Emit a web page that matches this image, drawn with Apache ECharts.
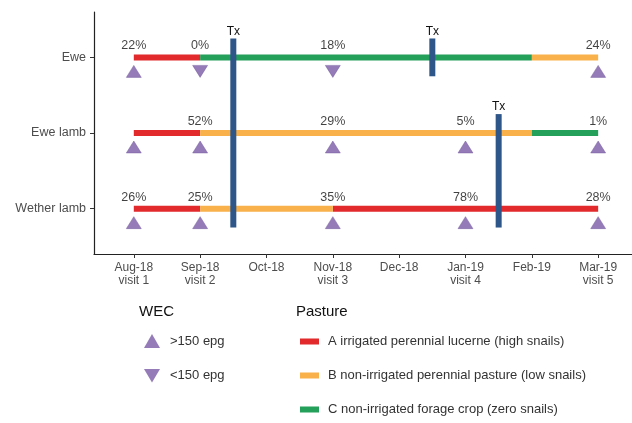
<!DOCTYPE html>
<html>
<head>
<meta charset="utf-8">
<script src="https://cdn.jsdelivr.net/npm/echarts@6/dist/echarts.min.js"></script>
<style>
  html, body { margin: 0; background: #fff; }
  #root { width: 632px; height: 423px; }
</style>
</head>
<body>
<div id="root"></div>
<script>
// x = month index from Aug-18
const months = ['Aug-18\nvisit 1', 'Sep-18\nvisit 2', 'Oct-18', 'Nov-18\nvisit 3', 'Dec-18', 'Jan-19\nvisit 4', 'Feb-19', 'Mar-19\nvisit 5']
const groups = ['Ewe', 'Ewe lamb', 'Wether lamb']
const pastures = [
  'A irrigated perennial lucerne (high snails)',
  'B non-irrigated perennial pasture (low snails)',
  'C non-irrigated forage crop (zero snails)'
]
const pastureColors = ['#E2292B', '#F8B14B', '#25A05A']

// [group, from month, to month, pasture]
const segments = [
  [0, 0, 1, 0], [0, 1, 6, 2], [0, 6, 7, 1],
  [1, 0, 1, 0], [1, 1, 6, 1], [1, 6, 7, 2],
  [2, 0, 1, 0], [2, 1, 3, 1], [2, 3, 7, 0]
]

// [month, group, percent]
const percents = [
  [0, 0, 22], [1, 0, 0], [3, 0, 18], [7, 0, 24],
  [1, 1, 52], [3, 1, 29], [5, 1, 5], [7, 1, 1],
  [0, 2, 26], [1, 2, 25], [3, 2, 35], [5, 2, 78], [7, 2, 28]
]

// WEC result per visit: [month, group]
const wecHigh = [
  [0, 0], [7, 0],
  [0, 1], [1, 1], [3, 1], [5, 1], [7, 1],
  [0, 2], [1, 2], [3, 2], [5, 2], [7, 2]
]
const wecLow = [[1, 0], [3, 0]]

// treatments: [month, first group, last group]
const treatments = [[1.5, 0, 2], [4.5, 0, 0], [5.5, 1, 2]]

const font = 'Liberation Sans'
const downTriangle = 'path://M0,0 L2,0 L1,1.7 Z'

const chart = echarts.init(document.getElementById('root'))

const segmentSeries = pastures.map((name, p) => ({
  name,
  type: 'custom',
  itemStyle: { color: pastureColors[p] },
  encode: { x: [1, 2], y: 0 },
  data: segments.filter(s => s[3] === p),
  renderItem: (params, api) => {
    const a = api.coord([api.value(1), api.value(0)])
    const b = api.coord([api.value(2), api.value(0)])
    return {
      type: 'line',
      shape: { x1: a[0], y1: a[1], x2: b[0], y2: b[1] },
      style: { stroke: pastureColors[p], lineWidth: 6 }
    }
  },
  z: 2
}))

const option = {
  animation: false,
  title: [
    { text: 'WEC', left: 139, top: 304, padding: 0, textStyle: { fontFamily: font, fontSize: 15, fontWeight: 'normal', color: '#111' } },
    { text: 'Pasture', left: 296, top: 304, padding: 0, textStyle: { fontFamily: font, fontSize: 15, fontWeight: 'normal', color: '#111' } }
  ],
  legend: [
    {
      data: ['>150 epg', '<150 epg'],
      orient: 'vertical',
      left: 144,
      top: 334,
      itemWidth: 16,
      itemHeight: 14,
      itemGap: 21,
      selectedMode: false,
      padding: 0,
      itemStyle: { borderWidth: 0 },
      textStyle: { fontFamily: font, fontSize: 13, color: '#333', padding: [0, 0, 0, 5] }
    },
    {
      data: pastures.map(name => ({ name, icon: 'rect' })),
      orient: 'vertical',
      left: 300,
      top: 335,
      itemWidth: 19,
      itemHeight: 6,
      itemGap: 21,
      selectedMode: false,
      padding: 0,
      textStyle: { fontFamily: font, fontSize: 13, color: '#333', padding: [0, 0, 0, 4] }
    }
  ],
  grid: { left: 94, right: 0, top: 12, bottom: 169, containLabel: false },
  xAxis: {
    type: 'value',
    min: -0.6,
    max: 7.51,
    splitLine: { show: false },
    axisLine: { show: true, onZero: false, lineStyle: { color: '#222', width: 1.2 } },
    axisTick: { show: true, length: 4, customValues: months.map((m, i) => i), lineStyle: { color: '#333' } },
    axisLabel: {
      customValues: months.map((m, i) => i),
      formatter: v => months[Math.round(v)],
      fontFamily: font,
      fontSize: 12,
      color: '#4D4D4D',
      lineHeight: 13,
      margin: 7
    }
  },
  yAxis: {
    type: 'value',
    inverse: true,
    min: -0.6,
    max: 2.6,
    splitLine: { show: false },
    axisLine: { show: true, onZero: false, lineStyle: { color: '#222', width: 1.2 } },
    axisTick: { show: true, length: 4, customValues: [0, 1, 2], lineStyle: { color: '#333' } },
    axisLabel: {
      customValues: [0, 1, 2],
      formatter: v => groups[Math.round(v)],
      fontFamily: font,
      fontSize: 12.5,
      color: '#4D4D4D',
      margin: 8
    }
  },
  series: [
    ...segmentSeries,
    {
      name: 'Tx',
      type: 'custom',
      encode: { x: 0, y: [1, 2] },
      data: treatments,
      renderItem: (params, api) => {
        const top = api.coord([api.value(0), api.value(1) - 0.25])
        const bottom = api.coord([api.value(0), api.value(2) + 0.25])
        return {
          type: 'group',
          children: [
            {
              type: 'rect',
              shape: { x: top[0] - 3, y: top[1], width: 6, height: bottom[1] - top[1] },
              style: { fill: '#2E5688' }
            },
            {
              type: 'text',
              style: {
                text: 'Tx', x: top[0], y: top[1] - 1, align: 'center', verticalAlign: 'bottom',
                fill: '#111', fontFamily: font, fontSize: 12
              }
            }
          ]
        }
      },
      z: 3
    },
    {
      name: 'pct',
      type: 'scatter',
      data: percents,
      symbolSize: 0,
      itemStyle: { color: 'rgba(0,0,0,0)' },
      label: {
        show: true,
        position: 'top',
        distance: 5,
        formatter: p => p.value[2] + '%',
        fontFamily: font,
        fontSize: 12.5,
        color: '#111'
      },
      z: 4
    },
    {
      name: '>150 epg',
      type: 'scatter',
      data: wecHigh,
      symbol: 'triangle',
      symbolSize: [15, 12],
      symbolOffset: [0, 14],
      itemStyle: { color: '#7B5BA6', borderColor: '#6A4E96', borderWidth: 0.5 },
      z: 4
    },
    {
      name: '<150 epg',
      type: 'scatter',
      data: wecLow,
      symbol: downTriangle,
      symbolSize: [15, 12],
      symbolOffset: [0, 14],
      itemStyle: { color: '#7B5BA6', borderColor: '#6A4E96', borderWidth: 0.5 },
      z: 4
    }
  ]
}

chart.setOption(option)
</script>
</body>
</html>
